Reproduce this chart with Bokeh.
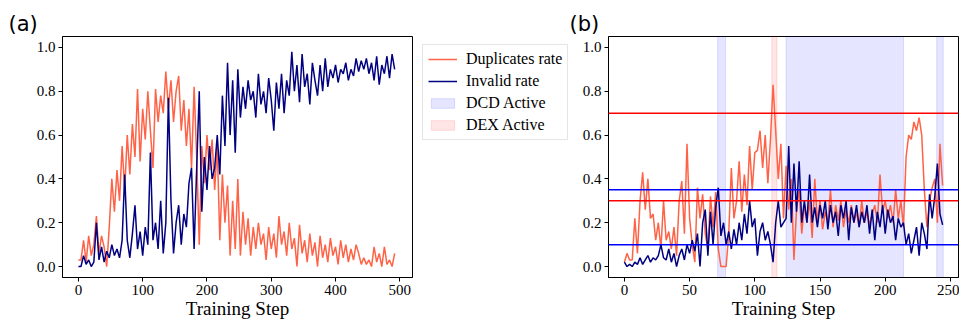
from bokeh.plotting import figure
from bokeh.layouts import row
from bokeh.models import (Range1d, FixedTicker, PrintfTickFormatter, Span, BoxAnnotation,
                          Legend, LegendItem)
from bokeh.embed import file_html
from bokeh.resources import INLINE

NAN = float("nan")

# ---------------- data ----------------
# panel (a): training steps 0..492, every 4th step
dup_a = [0.03, 0.03, 0.12, 0.02, 0.14, 0.05, 0.10, 0.23, 0.06, 0.14,
         0.09, 0.00, 0.18, 0.40, 0.25, 0.44, 0.30, 0.55, 0.35, 0.60,
         0.42, 0.65, 0.50, 0.81, 0.48, 0.72, 0.58, 0.80, 0.62, 0.45,
         0.81, 0.66, 0.78, 0.70, 0.89, 0.72, 0.85, 0.66, 0.80, 0.87,
         0.62, 0.76, 0.55, 0.72, 0.45, 0.82, 0.50, 0.10, 0.55, 0.38,
         0.60, 0.44, 0.58, 0.35, 0.55, 0.12, 0.42, 0.20, 0.37, 0.05,
         0.30, 0.08, 0.40, 0.05, 0.25, 0.10, 0.22, 0.05, 0.18, 0.08,
         0.20, 0.10, 0.15, 0.03, 0.18, 0.08, 0.15, 0.04, 0.23, 0.10,
         0.16, 0.05, 0.20, 0.08, 0.13, 0.00, 0.19, 0.06, 0.12, 0.02,
         0.15, 0.05, 0.11, 0.00, 0.14, 0.04, 0.10, 0.02, 0.13, 0.05,
         0.09, 0.01, 0.12, 0.04, 0.10, 0.02, 0.08, 0.03, 0.10, 0.06,
         0.01, 0.04, 0.01, 0.03, 0.00, 0.09, 0.02, 0.06, 0.00, 0.09,
         0.01, 0.03, 0.00, 0.06]
inv_a = [0.00, 0.00, 0.05, 0.01, 0.03, 0.00, 0.02, 0.20, 0.03, 0.09,
         0.02, 0.07, 0.04, 0.10, 0.05, 0.08, 0.04, 0.12, 0.42, 0.12,
         0.04, 0.15, 0.28, 0.08, 0.16, 0.05, 0.18, 0.10, 0.52, 0.12,
         0.20, 0.08, 0.30, 0.06, 0.20, 0.77, 0.30, 0.06, 0.20, 0.28,
         0.10, 0.24, 0.18, 0.38, 0.45, 0.08, 0.45, 0.80, 0.25, 0.50,
         0.35, 0.55, 0.40, 0.45, 0.60, 0.42, 0.78, 0.55, 0.93, 0.60,
         0.85, 0.52, 0.90, 0.68, 0.82, 0.72, 0.85, 0.76, 0.80, 0.68,
         0.88, 0.74, 0.80, 0.70, 0.86, 0.76, 0.62, 0.84, 0.72, 0.88,
         0.70, 0.85, 0.78, 0.98, 0.80, 0.92, 0.75, 0.97, 0.82, 0.88,
         0.74, 0.93, 0.85, 0.78, 0.92, 0.80, 0.95, 0.82, 0.90, 0.86,
         0.92, 0.84, 0.90, 0.88, 0.93, 0.85, 0.90, 0.87, 0.95, 0.89,
         0.94, 0.90, 0.95, 0.88, 0.93, 0.85, 0.96, 0.83, 0.92, 0.88,
         0.96, 0.86, 0.97, 0.90]
steps_a = [4 * i for i in range(len(dup_a))]

# panel (b): training steps 0..244, every 2nd step
dup_b = [0.02, 0.06, 0.03, 0.03, 0.22, 0.06, 0.30, 0.43, 0.26, 0.40,
         0.22, 0.24, 0.12, 0.20, 0.08, 0.30, 0.12, 0.16, 0.08, 0.18,
         0.05, 0.30, 0.39, 0.15, 0.56, 0.22, 0.10, 0.02, 0.36, 0.22,
         0.33, 0.15, 0.08, 0.32, 0.18, 0.34, 0.08, 0.00, 0.00, 0.00,
         0.15, 0.45, 0.22, 0.30, 0.48, 0.25, 0.42, 0.28, 0.55, 0.35,
         0.52, 0.53, 0.62, 0.45, 0.60, 0.38, 0.58, 0.83, 0.62, 0.40,
         0.56, 0.22, 0.46, 0.26, 0.40, 0.03, 0.26, 0.35, 0.15, 0.28,
         0.20, 0.30, 0.13, 0.40, 0.20, 0.30, 0.17, 0.25, 0.20, 0.35,
         0.18, 0.28, 0.21, 0.30, 0.18, 0.26, 0.20, 0.28, 0.20, 0.25,
         0.18, 0.30, 0.20, 0.25, 0.19, 0.24, 0.28, 0.20, 0.42, 0.25,
         0.30, 0.22, 0.28, 0.20, 0.35, 0.22, 0.30, 0.18, 0.50, 0.60,
         0.58, 0.66, 0.62, 0.68, 0.60, 0.35, 0.18, 0.30, 0.36, 0.40,
         0.20, 0.56, 0.37]
inv_b = [0.02, 0.00, 0.01, 0.00, 0.02, 0.01, 0.04, 0.01, 0.03, 0.05,
         0.02, 0.04, 0.03, 0.05, 0.10, 0.04, 0.03, 0.08, 0.02, 0.06,
         0.00, 0.05, 0.08, 0.03, 0.10, 0.06, 0.12, 0.07, 0.15, 0.00,
         0.20, 0.26, 0.05, 0.25, 0.10, 0.27, 0.36, 0.14, 0.20, 0.10,
         0.16, 0.08, 0.17, 0.10, 0.20, 0.12, 0.24, 0.15, 0.30, 0.18,
         0.22, 0.05, 0.16, 0.20, 0.12, 0.16, 0.10, 0.02, 0.20, 0.30,
         0.18, 0.20, 0.22, 0.55, 0.20, 0.47, 0.25, 0.48, 0.20, 0.30,
         0.20, 0.42, 0.20, 0.27, 0.18, 0.28, 0.22, 0.30, 0.17, 0.28,
         0.20, 0.25, 0.14, 0.28, 0.22, 0.30, 0.12, 0.27, 0.20, 0.28,
         0.18, 0.25, 0.20, 0.28, 0.15, 0.26, 0.12, 0.25, 0.18, 0.28,
         0.15, 0.26, 0.20, 0.23, 0.12, 0.22, 0.18, 0.20, 0.10, 0.15,
         0.06, 0.12, 0.18, 0.05, 0.20, 0.15, 0.08, 0.33, 0.22, 0.32,
         0.47, 0.24, 0.19]
steps_b = [2 * i for i in range(len(dup_b))]

red_thresholds = [0.7, 0.3]
blue_thresholds = [0.35, 0.1]
dcd_active = [(71.5, 77.5), (124.0, 214.0), (239.5, 244.5)]
dex_active = [(113.0, 117.0)]

y_ticks = [0.0, 0.2, 0.4, 0.6, 0.8, 1.0]
x_ticks_a = [0, 100, 200, 300, 400, 500]
x_ticks_b = [0, 50, 100, 150, 200, 250]

labels = ["Duplicates rate", "Invalid rate", "DCD Active", "DEX Active"]
panel_titles = ["(a)", "(b)"]
x_label = "Training Step"

DUP_C = "#ff6347"
INV_C = "#000080"
SERIF = "Liberation Serif"
H = 321


def style(p, xticks, title_offset):
    p.xaxis.ticker = FixedTicker(ticks=xticks)
    p.yaxis.ticker = FixedTicker(ticks=y_ticks)
    p.yaxis.formatter = PrintfTickFormatter(format="%.1f")
    for ax in (p.xaxis[0], p.yaxis[0]):
        ax.major_label_text_font = SERIF
        ax.major_label_text_font_size = "15px"
        ax.major_label_text_color = "black"
        ax.axis_line_color = "black"
        ax.major_tick_line_color = "black"
        ax.major_tick_out = 4
        ax.major_tick_in = 0
        ax.minor_tick_line_color = None
        ax.major_label_standoff = 3
    p.xaxis.axis_label = x_label
    p.xaxis.axis_label_text_font = SERIF
    p.xaxis.axis_label_text_font_size = "19px"
    p.xaxis.axis_label_text_font_style = "normal"
    p.xaxis.axis_label_text_color = "black"
    p.xaxis.axis_label_standoff = 0
    p.xgrid.visible = False
    p.ygrid.visible = False
    p.outline_line_color = "black"
    p.outline_line_alpha = 1
    p.outline_line_width = 1
    p.background_fill_color = "white"
    p.border_fill_color = "white"
    p.title.align = "left"
    p.title.offset = title_offset
    p.title.standoff = 2
    p.title.text_font = "DejaVu Sans"
    p.title.text_font_size = "21px"
    p.title.text_font_style = "normal"
    p.title.text_color = "black"


# ---------------- panel (a) ----------------
pA = figure(width=414, height=H, x_range=Range1d(-24.75, 519.75), y_range=Range1d(-0.05, 1.05),
            title=panel_titles[0], output_backend="svg", toolbar_location=None,
            min_border_left=62, min_border_right=2, min_border_top=36, min_border_bottom=42)
style(pA, x_ticks_a, -54)
pA.line(steps_a, dup_a, line_color=DUP_C, line_width=1.5)
pA.line(steps_a, inv_a, line_color=INV_C, line_width=1.5)

# ---------------- legend (own canvas between the panels) ----------------
pL = figure(width=155, height=H, x_range=Range1d(0, 1), y_range=Range1d(0, 1),
            x_axis_type=None, y_axis_type=None, output_backend="svg", toolbar_location=None,
            min_border_left=0, min_border_right=0, min_border_top=0, min_border_bottom=0)
pL.xgrid.visible = False
pL.ygrid.visible = False
pL.outline_line_color = None
pL.background_fill_color = "white"
pL.border_fill_color = "white"
# legend proxies (no visible marks)
l_dup = pL.line([NAN], [NAN], line_color=DUP_C, line_width=1.5)
l_inv = pL.line([NAN], [NAN], line_color=INV_C, line_width=1.5)
l_dcd = pL.quad(left=[NAN], right=[NAN], bottom=[NAN], top=[NAN], fill_color="blue",
                fill_alpha=0.1, line_color="blue", line_alpha=0.12)
l_dex = pL.quad(left=[NAN], right=[NAN], bottom=[NAN], top=[NAN], fill_color="red",
                fill_alpha=0.1, line_color="red", line_alpha=0.12)
legend = Legend(items=[LegendItem(label=labels[0], renderers=[l_dup]),
                       LegendItem(label=labels[1], renderers=[l_inv]),
                       LegendItem(label=labels[2], renderers=[l_dcd]),
                       LegendItem(label=labels[3], renderers=[l_dex])],
                location="top_left", border_line_color="#cccccc", border_line_width=1,
                background_fill_color="white", background_fill_alpha=1,
                label_text_font=SERIF, label_text_font_size="16px", label_text_color="black",
                glyph_width=29, glyph_height=12, label_height=18, label_standoff=9,
                spacing=4, padding=5, margin=8)
pL.add_layout(legend)

# ---------------- panel (b) ----------------
pB = figure(width=390, height=H, x_range=Range1d(-12.2, 256.2), y_range=Range1d(-0.05, 1.05),
            title=panel_titles[1], output_backend="svg", toolbar_location=None,
            min_border_left=39, min_border_right=1, min_border_top=34, min_border_bottom=44)
style(pB, x_ticks_b, -39)
for lo, hi in dcd_active:
    pB.add_layout(BoxAnnotation(left=lo, right=hi, fill_color="blue", fill_alpha=0.1,
                                line_color="blue", line_alpha=0.12, level="underlay"))
for lo, hi in dex_active:
    pB.add_layout(BoxAnnotation(left=lo, right=hi, fill_color="red", fill_alpha=0.1,
                                line_color="red", line_alpha=0.12, level="underlay"))
pB.line(steps_b, dup_b, line_color=DUP_C, line_width=1.5)
pB.line(steps_b, inv_b, line_color=INV_C, line_width=1.5)
for t in red_thresholds:
    pB.add_layout(Span(location=t, dimension="width", line_color="#ff0000", line_width=1.5))
for t in blue_thresholds:
    pB.add_layout(Span(location=t, dimension="width", line_color="#0000ff", line_width=1.5))

layout = row(pA, pL, pB, spacing=0)
open("out.html", "w").write(file_html(layout, INLINE))
